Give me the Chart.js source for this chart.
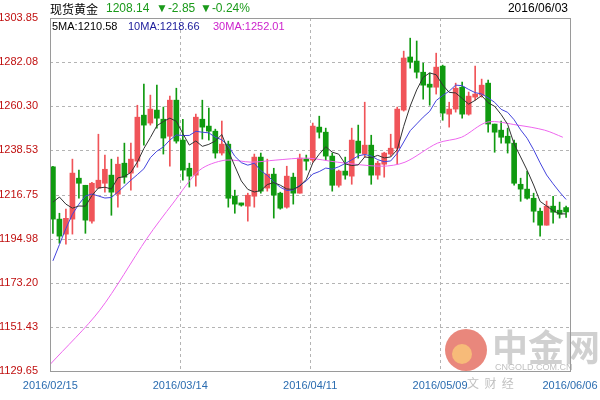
<!DOCTYPE html>
<html><head><meta charset="utf-8">
<script src="https://cdn.jsdelivr.net/npm/chart.js@4"></script>
<style>html,body{margin:0;padding:0;background:#fff}#w{width:600px;height:400px}</style>
</head><body><div id="w"><canvas id="c" width="600" height="400"></canvas></div>
<script>
const dateTicks = ['2016/02/15','2016/03/14','2016/04/11','2016/05/09','2016/06/06'];
const dateTickPos = [-0.4,19.6,39.6,59.6,79.6];
const yTicks = [1129.65,1151.43,1173.20,1194.98,1216.75,1238.53,1260.30,1282.08,1303.85];
const opens = [1230.4,1204.6,1197.2,1204.6,1224.8,1221.3,1203.6,1219.9,1222.3,1226.3,1216.9,1232.2,1227.3,1233.2,1255.9,1252.0,1258.4,1253.9,1245.5,1263.3,
1243.6,1229.7,1226.3,1253.9,1250.5,1248.0,1237.2,1241.6,1215.9,1212.0,1211.0,1215.9,1235.2,1219.9,1226.8,1217.4,1210.5,1225.3,1217.4,1233.7,
1233.7,1250.0,1247.5,1235.7,1221.3,1228.3,1225.8,1243.1,1236.7,1241.1,1226.3,1231.7,1236.7,1239.6,1258.4,1284.6,1282.6,1277.1,1271.2,1269.7,
1280.1,1256.4,1258.9,1269.7,1256.4,1264.8,1265.8,1271.7,1251.5,1248.5,1245.5,1242.1,1221.8,1219.4,1214.9,1208.5,1201.6,1211.0,1209.0,1210.3];
const closes = [1204.6,1196.2,1205.0,1227.3,1222.3,1204.1,1222.3,1223.8,1229.2,1217.9,1231.7,1225.3,1234.2,1254.9,1251.0,1258.9,1254.4,1244.6,1263.3,1243.1,
1228.8,1225.8,1254.9,1250.0,1248.0,1237.2,1241.6,1214.9,1212.0,1211.5,1216.4,1235.2,1218.4,1226.8,1216.4,1210.0,1225.8,1217.4,1234.7,1233.2,
1250.5,1247.5,1235.7,1221.3,1228.3,1226.3,1243.6,1237.2,1241.1,1226.3,1232.2,1237.2,1239.6,1258.9,1284.1,1282.1,1277.1,1270.7,1269.7,1279.6,
1256.9,1258.9,1269.2,1256.4,1265.3,1266.3,1270.7,1251.5,1247.5,1245.0,1242.1,1222.3,1219.4,1214.9,1208.5,1201.6,1211.0,1208.0,1207.0,1208.14];
const highs = [1230.7,1207.5,1209.5,1234.2,1228.8,1221.3,1222.8,1246.5,1236.2,1234.2,1235.2,1242.1,1242.1,1260.8,1271.2,1265.8,1270.7,1259.9,1265.3,1269.2,
1253.9,1232.2,1256.4,1263.3,1259.4,1249.0,1253.0,1243.1,1218.9,1212.5,1217.4,1236.7,1237.2,1234.2,1229.7,1217.9,1230.7,1227.3,1236.7,1236.2,
1252.0,1255.4,1249.5,1237.2,1228.8,1235.2,1249.5,1251.0,1262.3,1246.0,1233.2,1237.6,1246.5,1259.9,1287.5,1293.9,1292.5,1281.6,1276.7,1286.5,
1280.6,1262.3,1271.7,1272.2,1267.3,1280.1,1273.7,1273.2,1251.5,1253.0,1249.5,1243.6,1224.8,1228.3,1217.4,1210.0,1213.5,1215.9,1213.0,1211.0];
const lows = [1197.6,1192.7,1192.2,1197.2,1214.9,1197.6,1202.6,1219.9,1217.9,1206.5,1210.5,1222.3,1218.9,1230.2,1241.1,1251.0,1249.5,1236.7,1230.7,1242.1,
1223.8,1220.4,1220.9,1244.1,1243.6,1234.7,1236.2,1210.5,1207.5,1211.0,1203.6,1210.5,1217.4,1218.4,1205.1,1209.5,1210.0,1212.0,1217.4,1228.8,
1232.7,1244.6,1233.7,1218.4,1220.4,1224.3,1221.8,1234.7,1235.2,1221.8,1224.3,1225.3,1235.7,1231.7,1257.9,1279.1,1274.2,1263.8,1260.8,1266.3,
1253.4,1250.0,1257.4,1254.4,1255.9,1263.3,1264.8,1247.5,1237.6,1242.1,1237.2,1221.3,1213.4,1214.4,1203.1,1196.2,1201.6,1202.6,1205.1,1205.5];
const ma5Lead = [1213.0,1215.5,1212.0,1210.0];
const ma10Lead = [1184,1192,1200,1207,1212,1216,1217,1216,1215];
const ma30X = [-0.4,7.2,14.5,18.5,22.6,26.5,30.6,34.2,39.2,43.8,50.6,54.2,59.2,62.9,66.9,71.5,75.7,78.5];
const ma30Y = [1133.0,1159.6,1195.2,1212.5,1228.8,1233.7,1232.7,1233.7,1234.7,1232.7,1230.7,1232.7,1242.1,1245.0,1252.5,1251.0,1248.5,1245.0];

const UP='#f05459', DN='#109a10';
function ma(n, lead){return closes.map((c,i)=>{ if(i<lead.length) return {x:i,y:lead[i]}; let s=0; for(let k=i-n+1;k<=i;k++) s+=closes[k]; return {x:i,y:s/n};});}
const col = closes.map((c,i)=> c>=opens[i]?UP:DN);
const wick = closes.map((c,i)=>({x:i,y:[lows[i],highs[i]]}));
const body = closes.map((c,i)=>({x:i,y:[Math.min(opens[i],c), Math.max(opens[i],c)+ (Math.abs(opens[i]-c)<0.6?0.6:0)]}));

const frame = {id:'frame',
 beforeDatasetsDraw(ch){const a=ch.chartArea,x=ch.ctx;x.save();
  x.fillStyle='rgba(225,95,80,0.75)';x.beginPath();x.arc(466,350,21,0,Math.PI*2);x.fill();
  x.fillStyle='rgba(250,200,120,0.8)';x.beginPath();x.arc(462,354,10,0,Math.PI*2);x.fill();
  x.font='bold 36px "Noto Sans CJK SC"';x.fillStyle='rgba(150,150,150,0.45)';x.textBaseline='middle';x.fillText('中金网',492,347);
  x.font='9px "Liberation Sans"';x.fillStyle='rgba(150,150,150,0.6)';x.fillText('CNGOLD.COM.CN',495,368);
  x.font='12px "Noto Sans CJK SC"';x.fillText('文  财  经',467,383);
  x.strokeStyle='#b4b4b4';x.lineWidth=1;x.setLineDash([3,3]);
  const ys=ch.scales.y, xs=ch.scales.x;
  yTicks.forEach(v=>{const p=Math.round(ys.getPixelForValue(v))+0.5;x.beginPath();x.moveTo(a.left,p);x.lineTo(a.right,p);x.stroke();});
  dateTickPos.forEach(v=>{const p=Math.round(xs.getPixelForValue(v))+0.5;x.beginPath();x.moveTo(p,a.top);x.lineTo(p,a.bottom);x.stroke();});
  x.restore();},
 afterDraw(ch){const a=ch.chartArea,x=ch.ctx;x.save();
  x.strokeStyle='#9a9a9a';x.lineWidth=1;x.strokeRect(Math.round(a.left)+0.5,Math.round(a.top)+0.5,Math.round(a.right-a.left),Math.round(a.bottom-a.top));
  x.textBaseline='middle';x.font='12px "Noto Sans CJK SC"';x.fillStyle='#000';x.fillText('现货黄金',50,9);
  x.font='12px "Liberation Sans"';x.fillStyle='#1a9a1a';x.fillText('1208.14',106,9);x.fillText('▼-2.85',156,9);x.fillText('▼-0.24%',200,9);
  x.fillStyle='#000';x.textAlign='right';x.fillText('2016/06/03',568,9);x.textAlign='left';
  x.font='11px "Liberation Sans"';
  x.fillStyle='#000';x.fillText('5MA:1210.58',52,27);x.fillStyle='#1a1a9a';x.fillText('10MA:1218.66',128,27);x.fillStyle='#cc22cc';x.fillText('30MA:1252.01',213,27);
  x.restore();}};

new Chart(document.getElementById('c'),{
 type:'bar',
 data:{datasets:[
  {type:'line',data:ma(5,ma5Lead),borderColor:'#333',borderWidth:1,pointRadius:0,tension:0,order:0},
  {type:'line',data:ma(10,ma10Lead),borderColor:'#4444dd',borderWidth:1,pointRadius:0,tension:0,order:0},
  {type:'line',data:ma30X.map((v,i)=>({x:v,y:ma30Y[i]})),borderColor:'#ee66ee',borderWidth:1,pointRadius:0,tension:0.3,order:0},
  {data:wick,backgroundColor:col,barThickness:1,grouped:false,order:2},
  {data:body,backgroundColor:col,barThickness:5,grouped:false,order:1}
 ]},
 options:{responsive:false,animation:false,parsing:{xAxisKey:'x',yAxisKey:'y'},
  layout:{padding:{top:18,right:30,left:0,bottom:0}},
  plugins:{legend:{display:false},tooltip:{enabled:false}},
  scales:{
   x:{type:'linear',min:-0.45,max:79.6,offset:false,
     afterBuildTicks:s=>{s.ticks=dateTickPos.map(v=>({value:v}));},
     afterFit:s=>{s.height=29;},
     ticks:{callback:(v,i)=>dateTicks[i]||'',color:'#2a6cb0',font:{size:11,family:'Liberation Sans'},maxRotation:0,autoSkip:false,padding:0},
     grid:{display:false},border:{display:false}},
   y:{min:1129.65,max:1303.85,
     afterBuildTicks:s=>{s.ticks=yTicks.map(v=>({value:v}));},
     afterFit:s=>{s.width=50;},
     ticks:{callback:v=>v.toFixed(2),color:'#c01010',font:{size:11,family:'Liberation Sans'},padding:4},
     grid:{display:false},border:{display:false}}
  }},
 plugins:[frame]
});
</script></body></html>
